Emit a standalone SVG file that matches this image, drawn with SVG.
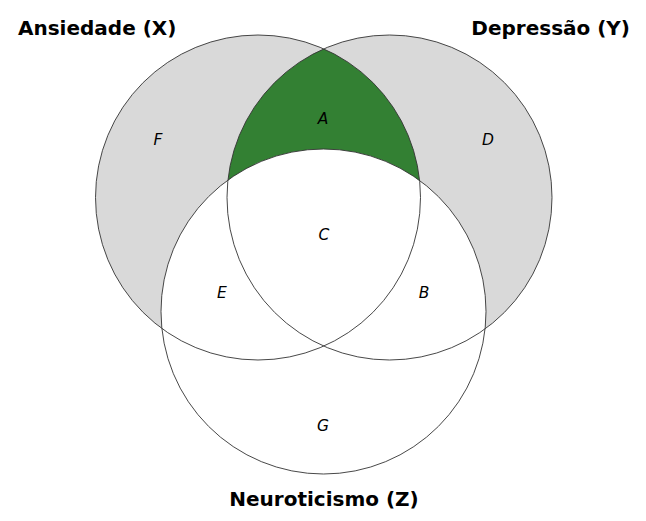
<svg xmlns="http://www.w3.org/2000/svg" width="646" height="521" viewBox="0 0 646 521">
<style>
.title{font-family:"DejaVu Sans",sans-serif;font-weight:bold;font-size:20px;fill:#000}
.lbl{font-family:"DejaVu Sans",sans-serif;font-style:italic;font-size:15.5px;fill:#000;text-anchor:middle}
.edge{fill:none;stroke:#333;stroke-width:0.9}
</style>
<defs>
<clipPath id="clipX"><circle cx="258" cy="197.5" r="162.5"/></clipPath>
</defs>
<rect width="646" height="521" fill="#fff"/>
<g id="fills">
<circle cx="258" cy="197.5" r="162.5" fill="#d9d9d9"/>
<circle cx="389.5" cy="197.5" r="162.5" fill="#d9d9d9"/>
<circle cx="389.5" cy="197.5" r="162.5" fill="#338033" clip-path="url(#clipX)"/>
<circle cx="323.5" cy="311.5" r="162.5" fill="#fff"/>
</g>
<g id="X"><circle class="edge" cx="258" cy="197.5" r="162.5"/><text class="title" x="18" y="35">Ansiedade (X)</text></g>
<g id="Y"><circle class="edge" cx="389.5" cy="197.5" r="162.5"/><text class="title" x="630" y="35" text-anchor="end">Depressão (Y)</text></g>
<g id="Z"><circle class="edge" cx="323.5" cy="311.5" r="162.5"/><text class="title" x="324" y="506" text-anchor="middle">Neuroticismo (Z)</text></g>
<g id="regions">
<text class="lbl" x="323" y="124">A</text>
<text class="lbl" x="158" y="145">F</text>
<text class="lbl" x="488" y="145">D</text>
<text class="lbl" x="324" y="240">C</text>
<text class="lbl" x="222" y="298">E</text>
<text class="lbl" x="424" y="298">B</text>
<text class="lbl" x="323" y="431">G</text>
</g>
<g id="connectors"></g>
</svg>
